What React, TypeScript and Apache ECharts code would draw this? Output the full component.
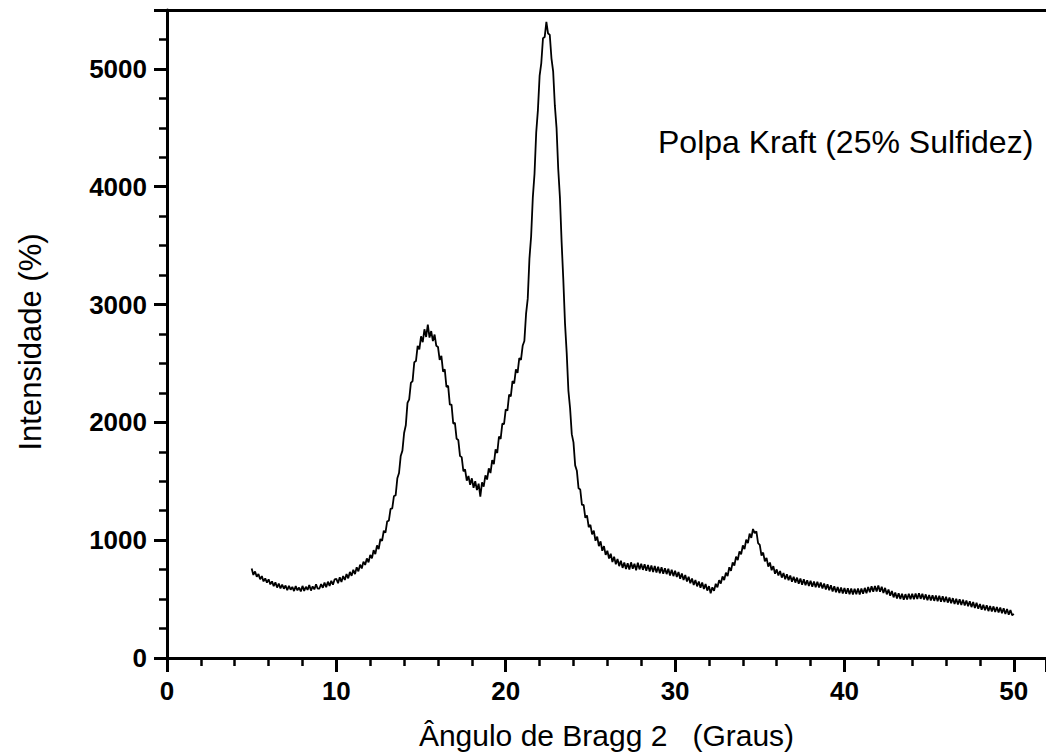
import React, { useEffect, useRef } from "react";
import * as echarts from "echarts";

// 2θ from 5.0 to 50.0 in steps of 0.1
const xStart = 5.0;
const xStep = 0.1;
const intensity: number[] = [
  // 5.x
  760, 705, 735, 690, 712, 668, 695, 650, 676, 640,
  // 6.x
  668, 625, 650, 610, 642, 598, 631, 590, 622, 588,
  // 7.x
  615, 575, 612, 580, 603, 568, 610, 574, 598, 565,
  // 8.x
  612, 570, 605, 578, 620, 572, 608, 582, 625, 588,
  // 9.x
  590, 628, 596, 640, 600, 648, 612, 655, 622, 668,
  // 10.x
  672, 634, 685, 645, 695, 662, 712, 676, 730, 698,
  // 11.x
  748, 712, 770, 735, 792, 760, 818, 790, 845, 812,
  // 12.x
  875, 845, 915, 882, 955, 925, 1010, 995, 1080, 1065,
  // 13.x
  1160, 1165, 1265, 1270, 1375, 1380, 1525, 1570, 1715, 1760,
  // 14.x
  1910, 1975, 2165, 2195, 2335, 2350, 2510, 2520, 2650, 2620,
  // 15.x
  2730, 2680, 2790, 2725, 2830, 2720, 2775, 2690, 2745, 2650,
  // 16.x
  2640, 2530, 2565, 2430, 2450, 2300, 2310, 2150, 2150, 1990,
  // 17.x
  1995, 1860, 1850, 1715, 1705, 1585, 1600, 1505, 1545, 1470,
  // 18.x
  1525, 1445, 1500, 1425, 1480, 1370, 1490, 1455, 1550, 1515,
  // 19.x
  1610, 1570, 1680, 1645, 1770, 1740, 1880, 1860, 1990, 1985,
  // 20.x
  2110, 2100, 2235, 2220, 2350, 2330, 2450, 2420, 2545, 2530,
  // 21.x
  2650, 2690, 2920, 3050, 3390, 3580, 3910, 4110, 4460, 4650,
  // 22.x
  4940, 5050, 5260, 5270, 5400, 5300, 5290, 5090, 4980, 4690,
  // 23.x
  4500, 4150, 3910, 3530, 3210, 2840, 2590, 2270, 2120, 1900,
  // 24.x
  1830, 1635, 1590, 1440, 1430, 1300, 1300, 1190, 1210, 1110,
  // 25.x
  1130, 1050, 1080, 995, 1030, 950, 990, 910, 950, 875,
  // 26.x
  910, 845, 885, 815, 860, 795, 840, 780, 825, 765,
  // 27.x
  810, 755, 805, 750, 812, 758, 800, 745, 808, 752,
  // 28.x
  800, 748, 795, 740, 790, 735, 785, 730, 780, 725,
  // 29.x
  775, 720, 770, 715, 762, 712, 758, 700, 750, 695,
  // 30.x
  740, 688, 730, 672, 718, 662, 705, 650, 690, 635,
  // 31.x
  675, 620, 662, 608, 650, 596, 640, 585, 628, 572,
  // 32.x
  610, 550, 600, 570, 630, 600, 660, 632, 692, 662,
  // 33.x
  725, 695, 770, 740, 812, 785, 860, 832, 905, 880,
  // 34.x
  955, 925, 1005, 975, 1055, 1020, 1095, 1060, 1075, 975,
  // 35.x
  960, 870, 895, 820, 850, 775, 810, 745, 780, 715,
  // 36.x
  752, 700, 738, 682, 722, 668, 710, 660, 700, 648,
  // 37.x
  690, 640, 682, 630, 675, 622, 668, 618, 660, 612,
  // 38.x
  655, 605, 650, 600, 648, 598, 640, 590, 632, 582,
  // 39.x
  625, 575, 618, 565, 608, 558, 602, 552, 598, 548,
  // 40.x
  595, 545, 592, 542, 590, 540, 588, 542, 590, 540,
  // 41.x
  590, 545, 595, 550, 602, 558, 608, 562, 612, 565,
  // 42.x
  615, 562, 605, 552, 595, 540, 582, 528, 568, 515,
  // 43.x
  555, 505, 550, 500, 545, 495, 542, 496, 545, 498,
  // 44.x
  545, 498, 548, 500, 550, 502, 546, 496, 540, 490,
  // 45.x
  535, 488, 532, 485, 530, 482, 528, 478, 524, 475,
  // 46.x
  520, 470, 514, 464, 508, 458, 502, 454, 498, 450,
  // 47.x
  494, 445, 488, 440, 482, 432, 476, 425, 468, 418,
  // 48.x
  458, 410, 452, 405, 448, 398, 442, 395, 438, 390,
  // 49.x
  432, 386, 428, 380, 422, 374, 415, 368, 408, 362,
  // 50.0
  375,
];

const xTicks = [0, 10, 20, 30, 40, 50];
const yTicks = [0, 1000, 2000, 3000, 4000, 5000];

const xLabel = "Ângulo de Bragg 2   (Graus)";
const yLabel = "Intensidade (%)";
const sampleLabel = "Polpa Kraft (25% Sulfidez)";

const FONT = "'Liberation Sans', Arial, Helvetica, sans-serif";

export default function App() {
  const ref = useRef<HTMLDivElement>(null);

  useEffect(() => {
    if (!ref.current) return;
    const chart = echarts.init(ref.current, undefined, { renderer: "svg" });
    const data = intensity.map((v, i) => [
      Math.round((xStart + i * xStep) * 10) / 10,
      v,
    ]);
    chart.setOption({
      animation: false,
      backgroundColor: "#ffffff",
      grid: { left: 167, right: 0, top: 10, bottom: 98, containLabel: false },
      xAxis: [
        {
          type: "value",
          min: 0,
          max: 51.9,
          interval: 10,
          position: "bottom",
          name: xLabel,
          nameLocation: "middle",
          nameGap: 62,
          nameTextStyle: { fontFamily: FONT, fontSize: 30, color: "#000" },
          axisLine: { show: true, onZero: false, lineStyle: { color: "#000", width: 3 } },
          axisTick: { show: true, inside: false, length: 14, lineStyle: { color: "#000", width: 3 } },
          minorTick: { show: true, splitNumber: 5, length: 8, lineStyle: { color: "#000", width: 2.5 } },
          axisLabel: {
            show: true,
            margin: 20,
            fontFamily: FONT,
            fontSize: 26,
            fontWeight: "bold",
            color: "#000",
            showMaxLabel: false,
            formatter: (v: number) => (xTicks.includes(v) ? String(v) : ""),
          },
          splitLine: { show: false },
        },
        {
          type: "value",
          min: 0,
          max: 51.9,
          position: "top",
          axisLine: { show: true, onZero: false, lineStyle: { color: "#000", width: 3 } },
          axisTick: { show: false },
          axisLabel: { show: false },
          splitLine: { show: false },
        },
      ],
      yAxis: {
        type: "value",
        min: 0,
        max: 5500,
        interval: 1000,
        axisLine: { show: true, onZero: false, lineStyle: { color: "#000", width: 3 } },
        axisTick: { show: true, inside: false, length: 13, lineStyle: { color: "#000", width: 3 } },
        minorTick: { show: true, splitNumber: 4, length: 8, lineStyle: { color: "#000", width: 2.5 } },
        axisLabel: {
          show: true,
          margin: 20,
          fontFamily: FONT,
          fontSize: 26,
          fontWeight: "bold",
          color: "#000",
          showMaxLabel: false,
          formatter: (v: number) => (yTicks.includes(v) ? String(v) : ""),
        },
        splitLine: { show: false },
      },
      graphic: [
        {
          type: "text",
          left: 658,
          top: 126,
          style: {
            text: sampleLabel,
            fontFamily: FONT,
            fontSize: 32,
            fill: "#000",
          },
        },
        {
          type: "text",
          x: 30,
          y: 342,
          rotation: Math.PI / 2,
          style: {
            text: yLabel,
            fontFamily: FONT,
            fontSize: 31,
            fill: "#000",
            align: "center",
            verticalAlign: "middle",
          },
        },
      ],
      series: [
        {
          type: "line",
          xAxisIndex: 0,
          data,
          showSymbol: false,
          symbol: "none",
          lineStyle: { color: "#000", width: 1.8 },
          silent: true,
        },
      ],
    });
    return () => chart.dispose();
  }, []);

  return (
    <div
      ref={ref}
      style={{ position: "fixed", left: 0, top: 0, width: 1046, height: 756 }}
    />
  );
}
